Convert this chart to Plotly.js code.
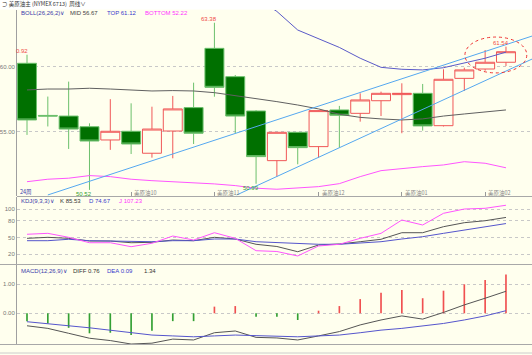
<!DOCTYPE html>
<html><head><meta charset="utf-8">
<script src="https://cdn.plot.ly/plotly-3.0.1.min.js"></script>
<style>html,body{margin:0;padding:0;background:#ffffee;}#chart{width:532px;height:355px;}</style>
</head><body><div id="chart"></div>
<script>
// ---- data ----
const week = [1,2,3,4,5,6,7,8,9,10,11,12,13,14,15,16,17,18,19,20,21,22,23,24];
const open  = [60.26,56.25,56.20,55.38,54.36,55.03,53.34,55.05,56.85,61.41,59.23,56.59,52.77,54.95,53.85,56.67,56.41,57.38,57.85,57.95,55.46,59.10,59.82,60.34];
const high  = [60.92,57.70,58.85,55.64,57.50,57.18,56.92,57.75,58.77,63.38,59.36,56.65,54.95,54.97,56.65,56.98,57.95,58.08,58.72,58.67,59.80,59.92,61.28,61.54];
const low   = [54.75,55.40,53.67,50.52,53.60,53.28,53.00,52.95,54.05,57.69,54.88,50.99,51.54,52.49,53.00,53.77,55.77,56.20,54.88,55.08,55.40,58.13,59.69,60.05];
const close = [55.90,56.20,55.20,54.28,55.03,54.05,55.20,56.75,54.88,58.41,56.20,53.08,54.95,53.77,56.62,56.26,57.44,57.95,57.95,55.44,59.03,59.75,60.34,61.15];
const bollMid    = [58.21,58.28,58.28,58.34,58.28,58.21,58.13,58.16,58.13,58.00,57.77,57.57,57.31,57.05,56.75,56.34,56.10,55.98,55.90,55.98,56.20,56.36,56.54,56.67];
const bollTop    = [65.90,65.80,65.90,66.10,66.00,65.90,65.70,65.60,65.50,65.60,65.70,65.30,64.25,62.82,62.18,61.48,60.65,59.95,59.80,59.75,59.92,60.26,60.65,61.12];
const bollBottom = [51.15,51.34,51.42,51.62,51.54,51.34,51.23,51.15,51.08,50.98,50.85,50.65,50.57,50.65,50.77,51.00,51.54,52.00,52.18,52.31,52.44,52.69,52.57,52.22];
const kdjK = [48.4,50.2,48.4,43.6,43.6,40.6,41.3,45.4,44.2,50.2,47.2,37.8,33.9,24.6,36.5,38.3,42.4,46.7,58.4,58.4,69.1,76.2,79.7,85.53];
const kdjD = [44.2,44.2,46.7,44.2,43.6,42.4,42.4,44.2,44.2,47.2,47.2,42.4,41.0,38.3,37.8,37.8,40.1,42.4,47.2,51.3,57.3,63.2,68.0,74.67];
const kdjJ = [55.6,57.3,50.2,40.6,40.6,33.5,39.6,52.5,45.4,58.4,48.4,26.4,25.0,17.0,34.8,37.8,48.4,57.3,81.0,72.1,92.9,100.5,101.8,107.23];
const macdDiff = [-0.43,-0.52,-0.69,-0.86,-0.94,-1.06,-1.03,-0.89,-0.92,-0.67,-0.61,-0.83,-0.85,-0.92,-0.78,-0.63,-0.40,-0.23,-0.09,-0.20,0.03,0.29,0.52,0.76];
const macdDea  = [-0.29,-0.35,-0.43,-0.50,-0.58,-0.67,-0.75,-0.78,-0.81,-0.78,-0.75,-0.77,-0.78,-0.81,-0.78,-0.75,-0.67,-0.58,-0.52,-0.44,-0.35,-0.23,-0.09,0.09];
const macdBar  = [-0.27,-0.35,-0.50,-0.69,-0.67,-0.75,-0.60,-0.27,-0.27,0.23,0.25,-0.12,-0.12,-0.23,0.09,0.25,0.49,0.71,0.80,0.52,0.78,1.00,1.15,1.34];
const trendLowerX = [2.0, 25.3],  trendLowerY = [50.13, 62.38];
const trendUpperX = [11.07, 25.3], trendUpperY = [50.13, 60.62];
const monthTicks  = [6,10,15,19,23];
const monthLabels = ['美原油10','美原油11','美原油12','美原油01','美原油02'];
const extremes = [
  {w:1,  v:60.92, text:'0.92',  pos:'top'},
  {w:10, v:63.38, text:'63.38', pos:'top'},
  {w:4,  v:50.52, text:'50.52', pos:'bottom'},
  {w:12, v:50.99, text:'50.99', pos:'bottom'},
  {w:24, v:61.54, text:'61.54', pos:'top'}
];

// ---- layout helpers ----
const BG = '#ffffee';
const W = 532, H = 355, L = 17;
const PX = x => (x - L) / (W - L);
const PY = y => 1 - y / H;
const last = a => a[a.length - 1].toFixed(2);
const LAT = 'Liberation Sans, Arial, sans-serif';
const CJK = 'Noto Sans CJK SC, sans-serif';
const xr = [0.52, 25.25];

const traces = [
  {type:'candlestick', x:week, open:open, high:high, low:low, close:close, xaxis:'x', yaxis:'y',
   increasing:{line:{color:'#f05858', width:1}, fillcolor:BG},
   decreasing:{line:{color:'#6cc06c', width:1}, fillcolor:'#007000'},
   whiskerwidth:0, hoverinfo:'skip', showlegend:false},
  {type:'scatter', mode:'lines', x:week, y:bollMid, xaxis:'x', yaxis:'y', line:{color:'#606060', width:1}},
  {type:'scatter', mode:'lines', x:week, y:bollTop, xaxis:'x', yaxis:'y', line:{color:'#5a5ac8', width:1}},
  {type:'scatter', mode:'lines', x:week, y:bollBottom, xaxis:'x', yaxis:'y', line:{color:'#ff55ff', width:1}},
  {type:'scatter', mode:'lines', x:trendLowerX, y:trendLowerY, xaxis:'x', yaxis:'y', line:{color:'#55a8f0', width:1}},
  {type:'scatter', mode:'lines', x:trendUpperX, y:trendUpperY, xaxis:'x', yaxis:'y', line:{color:'#55a8f0', width:1}},
  {type:'scatter', mode:'lines', x:week, y:kdjK, xaxis:'x2', yaxis:'y2', line:{color:'#555555', width:1}},
  {type:'scatter', mode:'lines', x:week, y:kdjD, xaxis:'x2', yaxis:'y2', line:{color:'#5555cc', width:1}},
  {type:'scatter', mode:'lines', x:week, y:kdjJ, xaxis:'x2', yaxis:'y2', line:{color:'#ff55ff', width:1}},
  {type:'bar', x:week, y:macdBar, xaxis:'x3', yaxis:'y3', width:0.08,
   marker:{color:macdBar.map(v => v >= 0 ? '#f05050' : '#33a033'), line:{width:0}}},
  {type:'scatter', mode:'lines', x:week, y:macdDiff, xaxis:'x3', yaxis:'y3', line:{color:'#555555', width:1}},
  {type:'scatter', mode:'lines', x:week, y:macdDea, xaxis:'x3', yaxis:'y3', line:{color:'#5555cc', width:1}}
];

const yAxisBase = {showline:true, linecolor:'#a0a0a0', linewidth:1, zeroline:false, fixedrange:true,
  showgrid:true, gridcolor:'#c8c8c8', griddash:'dot', gridwidth:1, ticks:'',
  tickfont:{size:6, color:'#777', family:LAT}};
const xAxisBase = {range:xr, showgrid:false, zeroline:false, showticklabels:false, showline:false, fixedrange:true};

const ann = [];
function txt(x, y, text, color, font, size, anchor) {
  ann.push({xref:'paper', yref:'paper', x:PX(x), y:PY(y), text:text, showarrow:false,
    xanchor:anchor || 'left', yanchor:'middle', font:{size:size || 6, color:color, family:font || LAT}});
}
// header bar
txt(0, 4.5, '⊃ 美原油主 (NYMEX 6713)  周线∨', '#333', CJK, 5.5);
// BOLL header
txt(19, 13.5, 'BOLL(26,26,2)∨', '#3a3aaa');
txt(68, 13.5, 'MID ' + last(bollMid), '#444');
txt(105, 13.5, 'TOP ' + last(bollTop), '#3a3acc');
txt(143, 13.5, 'BOTTOM ' + last(bollBottom), '#ff33ff');
// KDJ header
txt(19, 201, 'KDJ(9,3,3)∨', '#3a3aaa');
txt(58, 201, 'K ' + last(kdjK), '#333');
txt(87, 201, 'D ' + last(kdjD), '#3a3acc');
txt(117, 201, 'J ' + last(kdjJ), '#ff33ff');
// MACD header
txt(19, 270.5, 'MACD(12,26,9)∨', '#3a3aaa');
txt(71, 270.5, 'DIFF ' + last(macdDiff), '#333');
txt(105, 270.5, 'DEA ' + last(macdDea), '#3a3acc');
txt(142, 270.5, last(macdBar), '#333');
// bottom-left label
txt(18, 192, '24周', '#3a3aaa', CJK, 5.5);
// month labels
monthTicks.forEach((w, i) => ann.push({xref:'x', yref:'paper', x:w, y:PY(192.5), text:monthLabels[i],
  showarrow:false, xanchor:'left', yanchor:'middle', xshift:1, font:{size:5.5, color:'#888', family:CJK}}));
// extreme labels
extremes.forEach(e => ann.push({xref:'x', yref:'y', x:e.w, y:e.v, text:e.text, showarrow:false,
  xanchor:'center', yanchor:e.pos === 'top' ? 'bottom' : 'top', xshift:-5, yshift:e.pos === 'top' ? -1 : 1,
  font:{size:6, color:e.pos === 'top' ? '#f04848' : '#33a033', family:LAT}}));

const shapes = [
  {type:'rect', xref:'paper', yref:'paper', x0:PX(0), x1:PX(W), y0:PY(9.5), y1:PY(0), fillcolor:'#ffffff', line:{width:0}, layer:'below'},
  {type:'line', xref:'paper', yref:'paper', x0:PX(17), x1:PX(W), y0:PY(196.5), y1:PY(196.5), line:{color:'#a8a8a8', width:1}},
  {type:'line', xref:'paper', yref:'paper', x0:PX(0), x1:PX(W), y0:PY(264.5), y1:PY(264.5), line:{color:'#a8a8a8', width:1}},
  {type:'line', xref:'paper', yref:'paper', x0:PX(0), x1:PX(W), y0:PY(344.5), y1:PY(344.5), line:{color:'#a8a8a8', width:1}},
  {type:'line', xref:'paper', yref:'paper', x0:PX(0), x1:PX(W), y0:PY(353), y1:PY(353), line:{color:'#cccccc', width:1}},
  {type:'circle', xref:'x', yref:'y', x0:22.03, x1:25.0, y0:59.52, y1:62.28, line:{color:'#ee3333', width:1, dash:'dot'}}
];

const layout = {
  width:W, height:H, margin:{l:L, r:0, t:0, b:0, pad:0},
  paper_bgcolor:BG, plot_bgcolor:BG, showlegend:false, dragmode:false, hovermode:false,
  boxgap:0.09, boxgroupgap:0,
  xaxis: Object.assign({}, xAxisBase, {anchor:'y', rangeslider:{visible:false},
    tickvals:monthTicks, ticks:'inside', ticklen:4, tickcolor:'#999', tickwidth:1}),
  xaxis2: Object.assign({}, xAxisBase, {anchor:'y2', matches:'x'}),
  xaxis3: Object.assign({}, xAxisBase, {anchor:'y3', matches:'x'}),
  yaxis: Object.assign({}, yAxisBase, {domain:[PY(196), PY(10)], range:[50.05, 64.36],
    tickvals:[55, 60], ticktext:['55.00', '60.00']}),
  yaxis2: Object.assign({}, yAxisBase, {domain:[PY(265), PY(197)], range:[0.98, 121.9],
    tickvals:[20, 50, 80, 100], ticktext:['20', '50', '80', '100']}),
  yaxis3: Object.assign({}, yAxisBase, {domain:[PY(345), PY(265)], range:[-1.093, 1.666],
    tickvals:[0, 1], ticktext:['0.00', '1.00']}),
  annotations:ann, shapes:shapes
};
Plotly.newPlot('chart', traces, layout, {staticPlot:true, displayModeBar:false});
</script></body></html>
